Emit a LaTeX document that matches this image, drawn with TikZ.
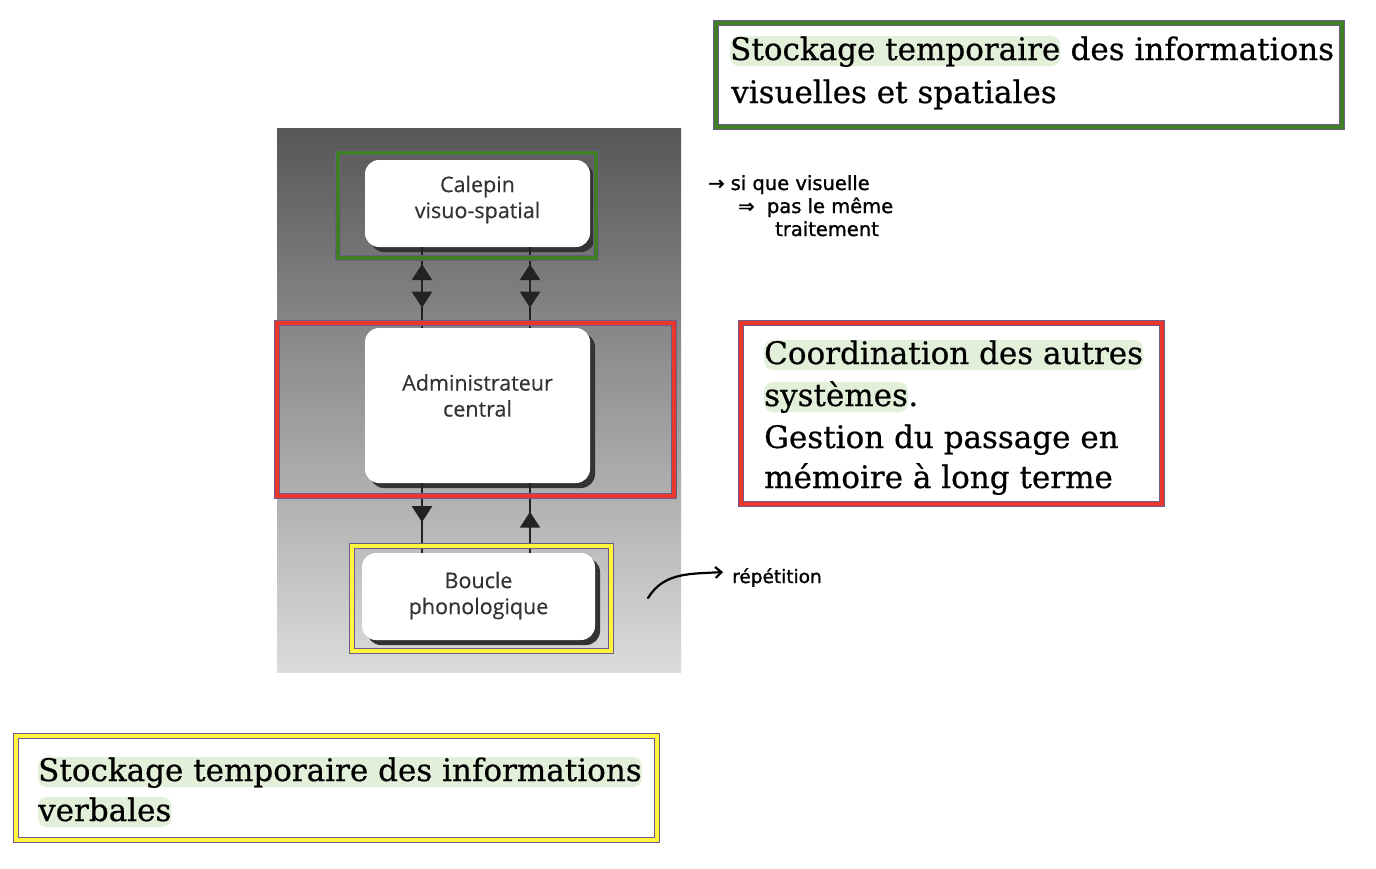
\documentclass[tikz,border=0pt]{standalone}
\usepackage{fontspec}
\setmainfont[FakeBold=0.6]{DejaVu Serif}
\newfontfamily\diagfont[FakeBold=0.4]{Open Sans}
\newfontfamily\handfont[FakeBold=1.2]{DejaVu Sans}
\usetikzlibrary{arrows.meta,decorations.markings,shadows,calc}
\definecolor{frgreen}{HTML}{3E7F23}
\definecolor{frred}{HTML}{E8382B}
\definecolor{fryellow}{HTML}{FFF53A}
\definecolor{frpurple}{HTML}{6E5A8C}
\definecolor{hlgreen}{HTML}{E2EFD9}
\definecolor{boxtext}{HTML}{333333}
\definecolor{linkcol}{HTML}{222222}
\tikzset{tri/.tip={Triangle[width=20pt,length=16pt]}}
\begin{document}
\begin{tikzpicture}[x=1pt,y=-1pt,
  frame/.style={draw=frpurple, line width=0.9pt, double distance=4.5pt, double=#1},
  box/.style={draw=none, fill=white, rounded corners=14pt, inner sep=0pt,
    drop shadow={shadow xshift=5pt, shadow yshift=-5pt, fill=black!80, opacity=1}},
  boxlbl/.style={align=center, font=\diagfont\fontsize{21.5}{26}\selectfont, text=boxtext, inner sep=0pt},
  link/.style={draw=linkcol, line width=2.2pt},
  txt/.style={font=\fontsize{31}{36}\selectfont, inner sep=0pt, anchor=base west},
  hl/.style={txt, fill=hlgreen, rounded corners=9pt, text height=24pt, text depth=6pt},
  hand/.style={font=\handfont\fontsize{19.5}{22}\selectfont, inner sep=0pt, anchor=base west},
]
\useasboundingbox (0,0) rectangle (1376,868);
\fill[white] (0,0) rectangle (1376,868);

% grey panel
\shade[top color=black!66, middle color=black!50, bottom color=black!14] (277,128) rectangle (681,672);

% boxes
\node[box, minimum width=225pt, minimum height=87pt] (calepin) at (477.5,203.5) {};
\node[box, minimum width=225pt, minimum height=155pt] (admin) at (477.5,405.5) {};
\node[box, minimum width=233pt, minimum height=87pt] (boucle) at (478.5,596.5) {};
\node[boxlbl] (calepinlbl) at ($(calepin.center)+(0,-4)$) {Calepin\\visuo-spatial};
\node[boxlbl] (adminlbl) at ($(admin.center)+(0,-10)$) {Administrateur\\central};
\node[boxlbl] (bouclelbl) at ($(boucle.center)+(0,-1)$) {Boucle\\phonologique};

% connectors
\coordinate (xl) at (422,0);
\coordinate (xr) at (530,0);
\draw[link, postaction={decorate}, decoration={markings,
  mark=at position 0.21 with {\arrowreversed{tri}},
  mark=at position 0.75 with {\arrow{tri}}}]
  (calepin.south -| xl) -- (admin.north -| xl);
\draw[link, postaction={decorate}, decoration={markings,
  mark=at position 0.21 with {\arrowreversed{tri}},
  mark=at position 0.75 with {\arrow{tri}}}]
  (calepin.south -| xr) -- (admin.north -| xr);
\draw[link, postaction={decorate}, decoration={markings,
  mark=at position 0.56 with {\arrow{tri}}}]
  (admin.south -| xl) -- (boucle.north -| xl);
\draw[link, postaction={decorate}, decoration={markings,
  mark=at position 0.41 with {\arrowreversed{tri}}}]
  (admin.south -| xr) -- (boucle.north -| xr);

% frames on the diagram
\draw[frame=frgreen] (338,153) rectangle (596,258);
\draw[frame=frred] (277,323) rectangle (674,496);
\draw[frame=fryellow] (352,546) rectangle (611,651);

% callouts
\draw[frame=frgreen, fill=white] (716,23) rectangle (1342,127);
\node[hl] (t1a) at (730,60) {Stockage temporaire};
\node[txt] (t1b) at (t1a.base east) {\ des informations};
\node[txt] (t1c) at (731,103) {visuelles et spatiales};

\draw[frame=frred, fill=white] (741,323) rectangle (1162,504);
\node[hl] (t2a) at (764,364) {Coordination des autres};
\node[hl] (t2b) at (764,406) {systèmes};
\node[txt] (t2c) at (t2b.base east) {.};
\node[txt] (t2d) at (764,448) {Gestion du passage en};
\node[txt] (t2e) at (764,488) {mémoire à long terme};

\draw[frame=fryellow, fill=white] (16,736) rectangle (657,840);
\node[hl] (t3a) at (38,781) {Stockage temporaire des informations};
\node[hl] (t3b) at (38,821) {verbales};

% handwritten notes
\node[hand] (h1) at (708,190) {→ si que visuelle};
\node[hand] (h2) at (738,213) {⇒ \ pas le même};
\node[hand] (h3) at (775,236) {traitement};
\node[hand, font=\handfont\fontsize{18.5}{22}\selectfont] (rep) at (732,583) {répétition};
\coordinate (repstart) at (648,598);
\draw[line width=2.2pt, line cap=round, -{Straight Barb[length=6pt,width=11pt]}]
  (repstart) .. controls (664,572) and (690,574) .. ($(rep.west |- 0,572)+(-9,0)$);
\end{tikzpicture}
\end{document}
